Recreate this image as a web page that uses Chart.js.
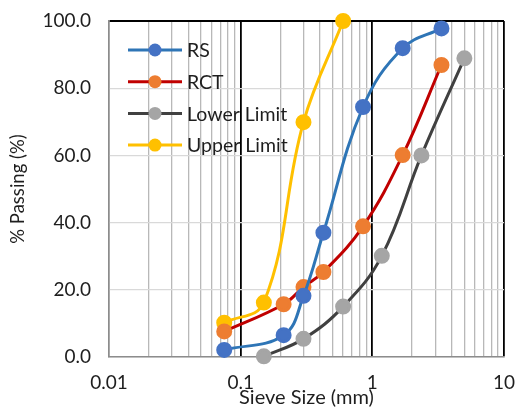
<!DOCTYPE html>
<html>
<head>
<meta charset="utf-8">
<script src="https://cdn.jsdelivr.net/npm/chart.js@4.4.0/dist/chart.umd.min.js"></script>
<style>
  html,body{margin:0;padding:0;background:#fff;}
  canvas{display:block;}
</style>
</head>
<body>
<canvas id="gradChart" width="517" height="410"></canvas>
<script>
/* ===============================
   DATA
================================ */
const sieveRS = [0.075, 0.212, 0.3, 0.425, 0.85, 1.7, 3.35];
const passRS  = [2.1, 6.5, 18.2, 37.0, 74.4, 91.9, 97.8];
const passRCT = [7.6, 15.7, 20.8, 25.3, 38.9, 60.1, 86.9];

const sieveLower = [0.15, 0.3, 0.6, 1.18, 2.36, 5.0];
const passLower  = [0.2, 5.4, 15.0, 30.1, 60.0, 88.9];

const sieveUpper = [0.075, 0.15, 0.3, 0.6];
const passUpper  = [10.2, 16.2, 69.9, 100];

const xTickLabels = [0.01, 0.1, 1, 10];
const yTickLabels = [0, 20, 40, 60, 80, 100];

const seriesNames = ["RS", "RCT", "Lower Limit", "Upper Limit"];

/* ===============================
   HELPERS
================================ */
const toPoints = (xs, ys) => xs.map((x, i) => ({x: x, y: ys[i]}));
const isDecade = v => xTickLabels.some(d => Math.abs(d - v) < 1e-9);

// minor log grid: 1..9 x each decade
const logTicks = [];
xTickLabels.forEach((d, i) => {
  if (i === xTickLabels.length - 1) { logTicks.push(d); return; }
  for (let k = 1; k <= 9; k++) logTicks.push(Number((k * d).toPrecision(3)));
});

const FONT = "Lato, 'Open Sans', sans-serif";
const TXT = "#1e1e1e";
Chart.defaults.font.family = FONT;
Chart.defaults.color = TXT;

function makeSet(label, pts, lineColor, dotColor){
  return {
    label: label,
    data: pts,
    borderColor: lineColor,
    backgroundColor: dotColor,
    pointBackgroundColor: dotColor,
    pointBorderColor: dotColor,
    pointRadius: 6.5,
    pointHoverRadius: 6.5,
    borderWidth: 3,
    tension: 0.4,
    fill: false,
    clip: false
  };
}

/* ===============================
   LEGEND INSIDE PLOT
================================ */
const innerLegend = {
  id: "innerLegend",
  afterDraw(chart){
    const ctx = chart.ctx;
    chart.data.datasets.forEach((ds, i) => {
      const y = 50 + i * 31.7;
      ctx.save();
      ctx.strokeStyle = ds.borderColor;
      ctx.lineWidth = 3;
      ctx.beginPath();
      ctx.moveTo(128, y);
      ctx.lineTo(182, y);
      ctx.stroke();
      ctx.fillStyle = ds.pointBackgroundColor;
      ctx.beginPath();
      ctx.arc(155, y, 6.5, 0, Math.PI * 2);
      ctx.fill();
      ctx.fillStyle = TXT;
      ctx.font = "19.5px " + FONT;
      ctx.textBaseline = "middle";
      ctx.textAlign = "left";
      ctx.fillText(ds.label, 187, y + 1);
      ctx.restore();
    });
  }
};

/* ===============================
   CHART
================================ */
new Chart(document.getElementById("gradChart"), {
  type: "line",
  data: {
    datasets: [
      makeSet(seriesNames[0], toPoints(sieveRS, passRS), "#2e75b6", "#4472c4"),
      makeSet(seriesNames[1], toPoints(sieveRS, passRCT), "#c00000", "#ed7d31"),
      makeSet(seriesNames[2], toPoints(sieveLower, passLower), "#404040", "#a5a5a5"),
      makeSet(seriesNames[3], toPoints(sieveUpper, passUpper), "#ffc000", "#ffc000")
    ]
  },
  options: {
    responsive: false,
    animation: false,
    layout: {padding: {top: 21, right: 13, left: 0, bottom: 0}},
    plugins: {legend: {display: false}, tooltip: {enabled: false}},
    scales: {
      x: {
        type: "logarithmic",
        min: xTickLabels[0],
        max: xTickLabels[xTickLabels.length - 1],
        afterBuildTicks: scale => { scale.ticks = logTicks.map(v => ({value: v})); },
        afterFit: scale => {
          scale.height = 53;
          scale.paddingLeft = 0;
          scale.paddingRight = 0;
        },
        ticks: {
          autoSkip: false,
          maxRotation: 0,
          padding: 14,
          font: {size: 19},
          callback: v => isDecade(v) ? String(v) : ""
        },
        grid: {
          drawTicks: false,
          color: c => (isDecade(c.tick.value) && c.tick.value > xTickLabels[0]) ? "#000000" : "#b8b8b8",
          lineWidth: c => isDecade(c.tick.value) ? 1.8 : 1.3
        },
        border: {color: "#8c8c8c", width: 1.5},
        title: {display: true, text: "Sieve Size (mm)", font: {size: 20}, padding: {bottom: 0, top: 0}}
      },
      y: {
        min: yTickLabels[0],
        max: yTickLabels[yTickLabels.length - 1],
        afterBuildTicks: scale => { scale.ticks = yTickLabels.map(v => ({value: v})); },
        afterFit: scale => {
          scale.width = 109;
          scale.paddingTop = 0;
          scale.paddingBottom = 0;
        },
        ticks: {
          padding: 18,
          font: {size: 19},
          callback: v => v.toFixed(1)
        },
        grid: {
          drawTicks: false,
          color: c => c.tick.value === 100 ? "#000000" : "#d9d9d9",
          lineWidth: c => c.tick.value === 100 ? 2 : 1.3
        },
        border: {color: "#8c8c8c", width: 1.5},
        title: {display: true, text: "% Passing (%)", font: {size: 18.5}, padding: {top: 7, bottom: 0}}
      }
    }
  },
  plugins: [innerLegend]
});
</script>
</body>
</html>
